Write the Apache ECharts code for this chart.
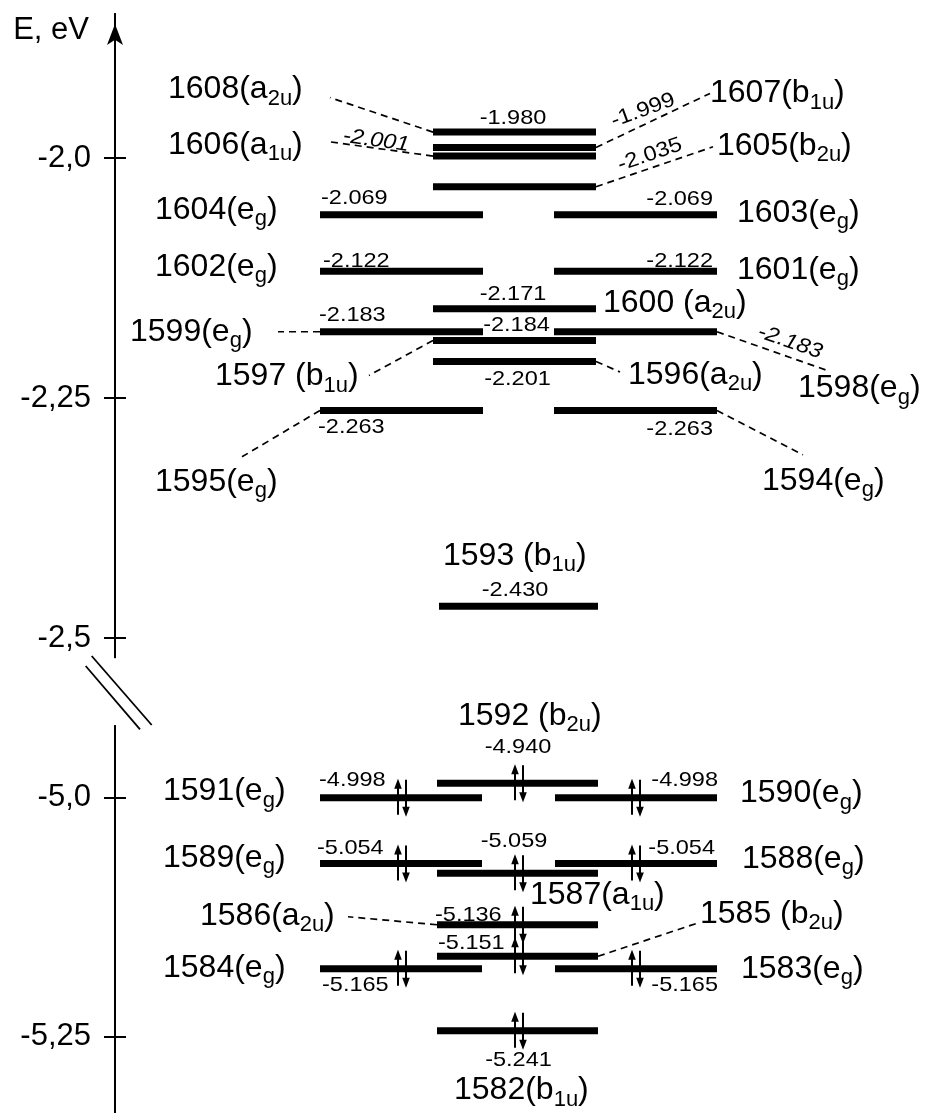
<!DOCTYPE html>
<html><head><meta charset="utf-8">
<script src="https://cdn.jsdelivr.net/npm/echarts@6/dist/echarts.min.js"></script>
<style>html,body{margin:0;padding:0;background:#fff}#c{width:931px;height:1113px}</style>
</head><body><div id="c"></div>
<script>
// ================= DATA =================
// Upper block (unoccupied MOs)
const upperIds      = [1608, 1607, 1606, 1605, 1604, 1603, 1602, 1601, 1600, 1599, 1598, 1597, 1596, 1595, 1594, 1593];
const upperNames    = ['1608(a_{2u})','1607(b_{1u})','1606(a_{1u})','1605(b_{2u})','1604(e_{g})','1603(e_{g})','1602(e_{g})','1601(e_{g})','1600 (a_{2u})','1599(e_{g})','1598(e_{g})','1597 (b_{1u})','1596(a_{2u})','1595(e_{g})','1594(e_{g})','1593 (b_{1u})'];
const upperEnergy   = [-1.980, -1.999, -2.001, -2.035, -2.069, -2.069, -2.122, -2.122, -2.171, -2.183, -2.183, -2.184, -2.201, -2.263, -2.263, -2.430];
const upperDrawnAt  = [-1.973, -1.989, -1.998, -2.030, -2.059, -2.059, -2.118, -2.118, -2.157, -2.181, -2.181, -2.190, -2.212, -2.263, -2.263, -2.467];
const upperColumn   = ['C','C','C','C','L','R','L','R','C','L','R','C','C','L','R','C2'];
const upperElectrons= [0,0,0,0,0,0,0,0,0,0,0,0,0,0,0,0];

// Lower block (occupied MOs)
const lowerIds      = [1592, 1591, 1590, 1589, 1588, 1587, 1586, 1585, 1584, 1583, 1582];
const lowerNames    = ['1592 (b_{2u})','1591(e_{g})','1590(e_{g})','1589(e_{g})','1588(e_{g})','1587(a_{1u})','1586(a_{2u})','1585 (b_{2u})','1584(e_{g})','1583(e_{g})','1582(b_{1u})'];
const lowerEnergy   = [-4.940, -4.998, -4.998, -5.054, -5.054, -5.059, -5.136, -5.151, -5.165, -5.165, -5.241];
const lowerDrawnAt  = [-4.985, -5.000, -5.000, -5.069, -5.069, -5.079, -5.133, -5.166, -5.179, -5.179, -5.244];
const lowerColumn   = ['C','L','R','L','R','C','C','C','L','R','C'];
const lowerElectrons= [2,2,2,2,2,2,2,2,2,2,2];

// Axis ticks
const upperTicks = [-2.0, -2.25, -2.5];
const upperTickLabels = ['-2,0', '-2,25', '-2,5'];
const lowerTicks = [-5.0, -5.25];
const lowerTickLabels = ['-5,0', '-5,25'];

// ================= LAYOUT / STYLE =================
const FONT = '"Liberation Sans", Arial, Helvetica, sans-serif';
const COLS_UP = {L:[320,483], C:[433,596], R:[554,717], C2:[439,598]};
const COLS_LO = {L:[320,482], C:[437,598], R:[555,717]};
const ELECTRON_X = {L:402, C:519, R:636, C2:519};
// name:[x, dy], num:[x, dy, align, rotateDeg, italic], link:[barEnd, x, dy]
const LAYOUT = {
  1608:{name:[168,-42.5], num:[513,-14,'center'], link:['start',330,-34.5]},
  1607:{name:[710,-54],   num:[643,-37,'center',20], link:['end',710,-54]},
  1606:{name:[168,-11],   num:[376,-15.5,'center',-8,true], link:['start',328,-14.5]},
  1605:{name:[717,-40.5], num:[650,-32,'center',19], link:['end',713,-40]},
  1604:{name:[155,-4.5],  num:[321,-16,'left']},
  1603:{name:[737,-1.5],  num:[713,-15,'right']},
  1602:{name:[155,-4.5],  num:[323,-10,'left']},
  1601:{name:[737,-1],    num:[713,-10,'right']},
  1600:{name:[603,-5.5],  num:[513,-14.5,'center']},
  1599:{name:[130,0],     num:[319,-16.7,'left'], link:['start',278,0]},
  1598:{name:[798,56.8],  num:[790,10.3,'center',-19,true], link:['end',828,39]},
  1597:{name:[215,36.2],  num:[516.5,-14.8,'center'], link:['start',369,35]},
  1596:{name:[628,13.3],  num:[517.5,17.8,'center'], link:['end',620,10.5]},
  1595:{name:[155,71.3],  num:[318,16.8,'left'], link:['start',242,46.3]},
  1594:{name:[762,70.3],  num:[713,18.8,'right'], link:['end',803,44.3]},
  1593:{name:[443,-50],   num:[515,-16,'center']},
  1592:{name:[458,-67.5], num:[518,-36,'center']},
  1591:{name:[163,-6.2],  num:[319,-17.2,'left']},
  1590:{name:[740,-4.2],  num:[718,-17.2,'right']},
  1589:{name:[163,-5.3],  num:[317,-15.8,'left']},
  1588:{name:[742,-4.3],  num:[715,-15.8,'right']},
  1587:{name:[530,21.7],  num:[514,-31.8,'center']},
  1586:{name:[200,-9],    num:[435,-10,'left'], link:['start',348,-8]},
  1585:{name:[700,-42],   num:[438,-13,'left'], link:['end',700,-34]},
  1584:{name:[163,-1],    num:[322,16.5,'left']},
  1583:{name:[741,0],     num:[718,16,'right']},
  1582:{name:[454,59.8],  num:[518.5,29.3,'center']}
};

function richName(s) {
  return '{m|' + s.replace(/_\{([^}]*)\}/g, '}{s|$1}{m|') + '}';
}
const RICH = {
  m: {fontSize: 32, fontFamily: FONT, lineHeight: 40, fill: '#000'},
  s: {fontSize: 22, fontFamily: FONT, lineHeight: 21, verticalAlign: 'bottom', fill: '#000'}
};

function electronPair(xc, y) {
  const up = xc - 4, dn = xc + 4;
  const ls = {stroke: '#000', lineWidth: 2};
  return [
    {type: 'line', shape: {x1: up, y1: y + 17, x2: up, y2: y - 10}, style: ls},
    {type: 'polygon', shape: {points: [[up, y - 19], [up - 3.8, y - 9], [up + 3.8, y - 9]]}, style: {fill: '#000'}},
    {type: 'line', shape: {x1: dn, y1: y - 18, x2: dn, y2: y + 10}, style: ls},
    {type: 'polygon', shape: {points: [[dn, y + 19], [dn - 3.8, y + 9], [dn + 3.8, y + 9]]}, style: {fill: '#000'}}
  ];
}

function makeRender(ids, names, energy, column, electrons) {
  return function (params, api) {
    const i = params.dataIndex;
    const L = LAYOUT[ids[i]];
    const yv = api.value(1);
    const p0 = api.coord([api.value(0), yv]);
    const p1 = api.coord([api.value(2), yv]);
    const y = p0[1];
    const ch = [];
    if (L.link) {
      const from = L.link[0] === 'start' ? p0 : p1;
      const to = api.coord([L.link[1], yv]);
      ch.push({type: 'line', shape: {x1: from[0], y1: y, x2: to[0], y2: y + L.link[2]},
               style: {stroke: '#000', lineWidth: 1.7, lineDash: [7, 5]}});
    }
    ch.push({type: 'rect', shape: {x: p0[0], y: y - 3.5, width: p1[0] - p0[0], height: 7}, style: {fill: '#000'}});
    if (electrons[i] === 2) {
      const xc = api.coord([ELECTRON_X[column[i]], yv])[0];
      electronPair(xc, y).forEach(e => ch.push(e));
    }
    // name label
    const np = api.coord([L.name[0], yv]);
    ch.push({type: 'text', x: np[0], y: y + L.name[1],
             style: {text: richName(names[i]), rich: RICH, align: 'left', verticalAlign: 'middle', fill: '#000'}});
    // energy value label
    const n = L.num;
    const tp = api.coord([n[0], yv]);
    ch.push({type: 'text', x: tp[0], y: y + n[1], rotation: (n[3] || 0) * Math.PI / 180, scaleX: 1.12,
             style: {text: energy[i].toFixed(3), font: (n[4] ? 'italic ' : '') + '21px ' + FONT,
                     fill: '#000', align: n[2], verticalAlign: 'middle'}});
    return {type: 'group', children: ch};
  };
}

const upperData = upperIds.map((id, i) => [COLS_UP[upperColumn[i]][0], upperDrawnAt[i], COLS_UP[upperColumn[i]][1]]);
const lowerData = lowerIds.map((id, i) => [COLS_LO[lowerColumn[i]][0], lowerDrawnAt[i], COLS_LO[lowerColumn[i]][1]]);

const UP_RANGE = {min: -2.52, max: -1.85};
const LO_RANGE = {min: -5.33, max: -4.925};
const gridUp = {left: 115, right: 0, top: 14, height: 643.2};
const gridLo = {left: 115, right: 0, top: 726, height: 388.8};

function xAx(g) { return {gridIndex: g, type: 'value', min: 115, max: 931, show: false}; }
function mainY(g, range, ticks, labels, withArrow) {
  const ax = {
    gridIndex: g, type: 'value', min: range.min, max: range.max,
    axisLine: {show: true, onZero: false, lineStyle: {color: '#000', width: 2}},
    axisTick: {show: true, inside: false, length: 11, customValues: ticks, lineStyle: {color: '#000', width: 2}},
    axisLabel: {show: true, customValues: ticks, margin: 24, color: '#000', fontSize: 31, fontFamily: FONT,
                formatter: v => labels[ticks.findIndex(t => Math.abs(t - v) < 1e-9)]},
    splitLine: {show: false}
  };
  if (withArrow) {
    ax.axisLine.symbol = ['none', 'arrow'];
    ax.axisLine.symbolSize = [12, 21];
    ax.axisLine.symbolOffset = [0, -10];
    ax.name = 'E, eV';
    ax.nameLocation = 'end';
    ax.nameGap = -16;
    ax.nameTextStyle = {color: '#000', fontSize: 31, fontFamily: FONT, align: 'right', verticalAlign: 'middle', padding: [0, 26, 0, 0]};
  }
  return ax;
}
function innerY(g, range, ticks) {
  return {gridIndex: g, type: 'value', min: range.min, max: range.max,
    axisLine: {show: true, onZero: false, lineStyle: {color: '#000', width: 2}},
    axisTick: {show: true, inside: true, length: 11, customValues: ticks, lineStyle: {color: '#000', width: 2}},
    axisLabel: {show: false}, splitLine: {show: false}};
}

const chart = echarts.init(document.getElementById('c'), null, {renderer: 'canvas'});
chart.setOption({
  animation: false,
  backgroundColor: '#fff',
  grid: [gridUp, gridLo, gridUp, gridLo],
  xAxis: [xAx(0), xAx(1), xAx(2), xAx(3)],
  yAxis: [
    mainY(0, UP_RANGE, upperTicks, upperTickLabels, true),
    mainY(1, LO_RANGE, lowerTicks, lowerTickLabels, false),
    innerY(2, UP_RANGE, upperTicks),
    innerY(3, LO_RANGE, lowerTicks)
  ],
  graphic: [
    {type: 'line', shape: {x1: 91.7, y1: 656, x2: 151.7, y2: 725}, style: {stroke: '#000', lineWidth: 1.8}},
    {type: 'line', shape: {x1: 85.7, y1: 666, x2: 140, y2: 729.3}, style: {stroke: '#000', lineWidth: 1.8}}
  ],
  series: [
    {type: 'custom', name: 'upper', xAxisIndex: 0, yAxisIndex: 0, clip: false, silent: true,
     encode: {x: [0, 2], y: 1}, data: upperData,
     renderItem: makeRender(upperIds, upperNames, upperEnergy, upperColumn, upperElectrons)},
    {type: 'custom', name: 'lower', xAxisIndex: 1, yAxisIndex: 1, clip: false, silent: true,
     encode: {x: [0, 2], y: 1}, data: lowerData,
     renderItem: makeRender(lowerIds, lowerNames, lowerEnergy, lowerColumn, lowerElectrons)}
  ]
});
</script></body></html>
